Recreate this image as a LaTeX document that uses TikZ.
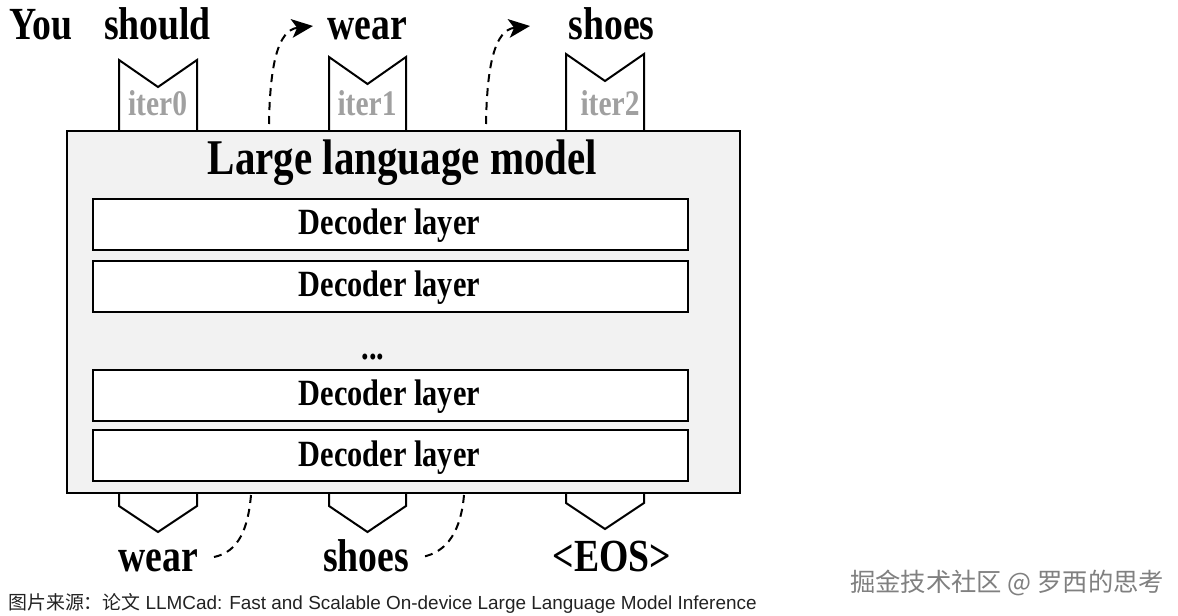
\documentclass[tikz,border=0pt]{standalone}
\usepackage{fontspec}
\setmainfont{Liberation Serif}
\newfontfamily\tnr{Liberation Serif}[FakeStretch=0.82]
\newfontfamily\cjk{Noto Sans CJK SC}
\newfontfamily\arialf{Liberation Sans}
\usetikzlibrary{arrows.meta}
\definecolor{boxgray}{HTML}{F2F2F2}
\definecolor{itergray}{HTML}{A0A0A0}
\definecolor{wmgray}{HTML}{808080}
\definecolor{capcol}{HTML}{222222}
\begin{document}
\begin{tikzpicture}[x=0.75pt,y=-0.75pt,
  tok/.style={font=\tnr\bfseries\fontsize{34.5pt}{36pt}\selectfont, anchor=base, inner sep=0pt},
  titletxt/.style={font=\tnr\bfseries\fontsize{37.5pt}{40pt}\selectfont, anchor=base, inner sep=0pt},
  dectxt/.style={font=\tnr\bfseries\fontsize{27.75pt}{30pt}\selectfont, anchor=base, inner sep=0pt},
  itertxt/.style={font=\tnr\bfseries\fontsize{27pt}{29pt}\selectfont, text=itergray, anchor=base, inner sep=0pt},
  llmbox/.style={draw, line width=1.5pt, fill=boxgray, minimum width=504.75pt, minimum height=271.5pt, inner sep=0pt},
  decbox/.style={draw, line width=1.5pt, fill=white, minimum width=446.25pt, minimum height=38.25pt, inner sep=0pt},
  flag/.style={draw, line width=1.5pt, fill=white, line join=miter},
  dashline/.style={line width=1.5pt, dash pattern=on 6pt off 4.5pt},
  arr/.style={dashline, -{Stealth[length=16pt,width=14pt,inset=4pt]}}
]
\useasboundingbox (0,0) rectangle (1178,616);

% top flags
\draw[flag] (119,131) -- (119,60) -- (158,87) -- (197,60) -- (197,131);
\draw[flag] (329,131) -- (329,57) -- (367.5,84) -- (406,57) -- (406,131);
\draw[flag] (566,131) -- (566,54) -- (605,81) -- (644,54) -- (644,131);

% bottom flags
\draw[flag] (119,493) -- (119,506) -- (158,532) -- (197,506) -- (197,493);
\draw[flag] (329,493) -- (329,506) -- (367.5,532) -- (406,506) -- (406,493);
\draw[flag] (566,493) -- (566,503) -- (605,529) -- (644,503) -- (644,493);

% main box
\node[llmbox] (llm) at (403.5,312) {};
\node[titletxt] (title) at (402.5,175) {Large language model};

\node[decbox] (d1) at (390.5,224.5) {};
\node[decbox] (d2) at (390.5,286.5) {};
\node[decbox] (d3) at (390.5,395.5) {};
\node[decbox] (d4) at (390.5,455.5) {};
\node[dectxt] (t1) at (389.5,235) {Decoder layer};
\node[dectxt] (t2) at (389.5,297) {Decoder layer};
\node[dectxt] (t3) at (389.5,406) {Decoder layer};
\node[dectxt] (t4) at (389.5,466) {Decoder layer};
\node[dectxt] (dots) at (373,360) {...};

% iter labels
\node[itertxt] (i0) at (157.5,116) {iter0};
\node[itertxt] (i1) at (367,116) {iter1};
\node[itertxt] (i2) at (610,116) {iter2};

% top tokens
\node[tok] (you) at (41,40) {You};
\node[tok] (should) at (157.5,40) {should};
\node[tok] (wearT) at (367,40) {wear};
\node[tok] (shoesT) at (611.5,40) {shoes};

% bottom tokens
\node[tok] (wearB) at (158,571) {wear};
\node[tok] (shoesB) at (366,571) {shoes};
\node[tok] (eos) at (612,571) {<EOS>};

% connectors
\coordinate (a1s) at (269,124);
\coordinate (a1e) at (313,26);
\coordinate (a2s) at (486,124);
\coordinate (a2e) at (530,26);
\draw[arr] (a1s) .. controls (270,64) and (278,30) .. (a1e);
\draw[arr] (a2s) .. controls (487,64) and (495,30) .. (a2e);

\coordinate (b1s) at (251,495);
\coordinate (b1e) at (214,557);
\coordinate (b2s) at (464,495);
\coordinate (b2e) at (422,557);
\draw[dashline] (b1s) .. controls (248,530) and (238,552) .. (b1e);
\draw[dashline] (b2s) .. controls (461,530) and (448,552) .. (b2e);

% caption and watermark
\node[anchor=base west, inner sep=0pt, text=capcol, font=\fontsize{14.2pt}{16pt}\selectfont] (cap) at (8,609) {{\cjk 图片来源：论文} {\arialf LLMCad: Fast and Scalable On-device Large Language Model Inference}};
\node[anchor=base west, inner sep=0pt, text=wmgray, font=\cjk\fontsize{19pt}{21pt}\selectfont] (wm) at (850,591) {掘金技术社区 @ 罗西的思考};
\end{tikzpicture}
\end{document}
